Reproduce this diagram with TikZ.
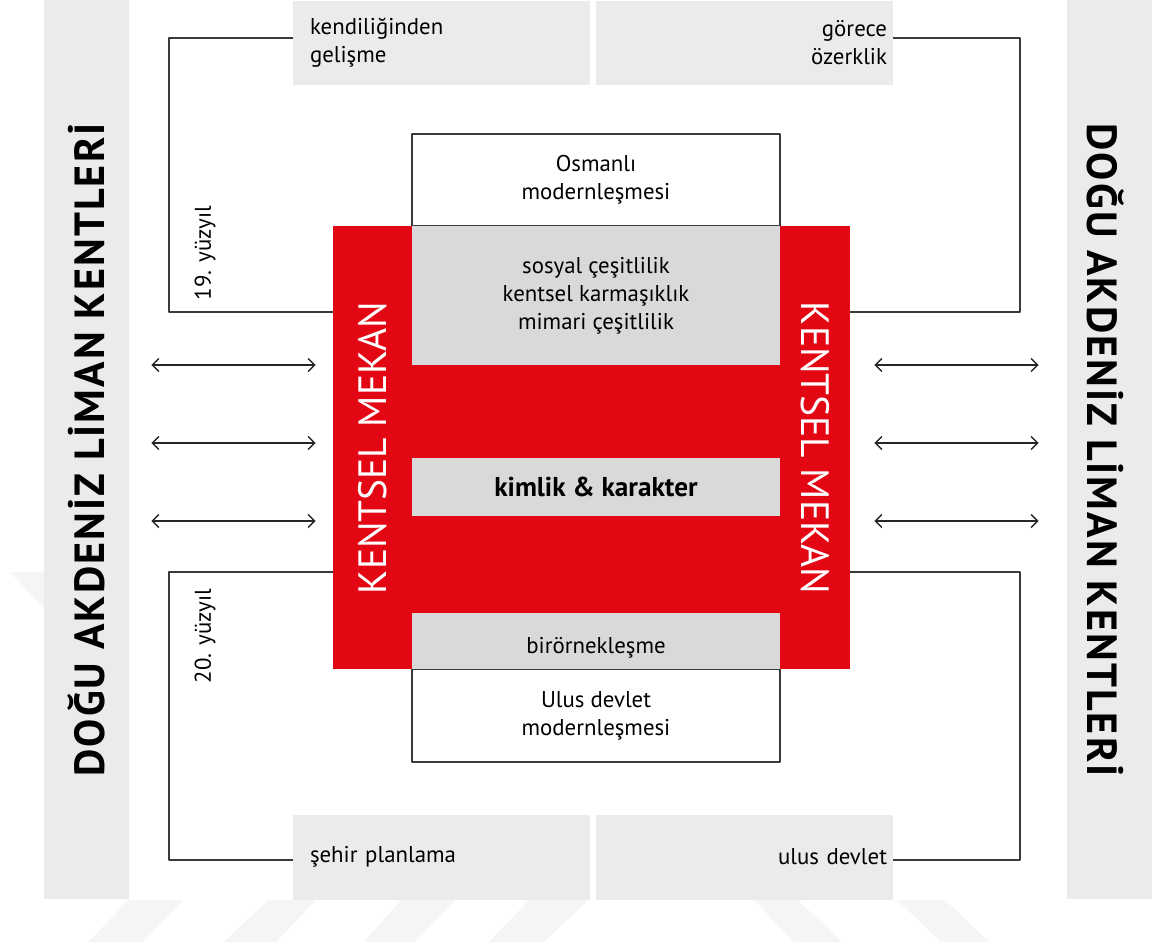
\documentclass[tikz,border=0pt]{standalone}
\usepackage{fontspec}
\setmainfont{PT Sans}
\newfontfamily\baslikfont[LetterSpace=5]{PT Sans}
\usetikzlibrary{arrows.meta}
\definecolor{kirmizi}{HTML}{E30613}
\definecolor{acikgri}{HTML}{EBEBEB}
\definecolor{gri}{HTML}{D9D9D9}
\definecolor{cizgi}{HTML}{3A3A3A}
\begin{document}
\begin{tikzpicture}[x=0.02cm,y=-0.02cm,>={Straight Barb[length=1.3mm,width=2.6mm]},line join=round,font=\fontsize{13}{16}\selectfont,
	bar/.style={fill=acikgri,minimum width=1.7cm,minimum height=17.98cm,inner sep=0pt},
	yanbox/.style={fill=acikgri,minimum width=5.94cm,minimum height=1.7cm,text width=5.26cm,inner xsep=0.34cm,inner ysep=0pt,align=left},
	yanboxR/.style={yanbox,text width=5.70cm,inner xsep=0.12cm,align=right},
	donem/.style={draw=cizgi,line width=0.8pt,fill=white,minimum width=7.36cm,minimum height=1.84cm,align=center},
	icbox/.style={fill=gri,minimum width=7.36cm,inner sep=0pt,align=center},
	baglanti/.style={draw=cizgi,line width=0.8pt},
	ok/.style={<->,draw=black!85,line width=0.8pt},
	baslik/.style={font=\baslikfont\fontsize{24}{28}\selectfont\bfseries},
	mekanyazi/.style={text=white,font=\fontsize{22.5}{26}\selectfont}]
	\useasboundingbox (0,0) rectangle (1152,947);
	% soluk filigran
	\fill[black!4] (88,942)--(143,942)--(184,900)--(129,900)--cycle;
	\fill[black!4] (224,942)--(276,942)--(316,900)--(268,900)--cycle;
	\fill[black!4] (364,942)--(415,942)--(456,900)--(401,900)--cycle;
	\fill[black!4] (489,942)--(544,942)--(588,900)--(529,900)--cycle;
	\fill[black!4] (754,900)--(798,900)--(842,942)--(794,942)--cycle;
	\fill[black!4] (897,900)--(945,900)--(989,942)--(941,942)--cycle;
	\fill[black!4] (10,572)--(44,572)--(44,608)--cycle;
	% kenar seritleri
	\node[bar] (doguL) at (86.5,449.5) {};
	\node[bar] (doguR) at (1109.5,449.5) {};
	\node[baslik,rotate=90] (dogusol) at (86,450) {DOĞU AKDENİZ LİMAN KENTLERİ};
	\node[baslik,rotate=-90] (dogusag) at (1106,450) {DOĞU AKDENİZ LİMAN KENTLERİ};
	% ust ve alt kutular
	\node[yanbox] (kend) at (441.5,43) {kendiliğinden\\gelişme};
	\node[yanboxR] (gorece) at (744.5,43) {görece\\özerklik};
	\node[yanbox] (sehir) at (441.5,857) {şehir planlama};
	\node[yanboxR] (ulus) at (744.5,857) {ulus devlet};
	\node[donem] (osm) at (596,180) {Osmanlı\\modernleşmesi};
	\node[donem,minimum height=1.86cm] (uld) at (596,715.5) {Ulus devlet\\modernleşmesi};
	% kentsel mekan
	\node[fill=kirmizi,minimum width=10.34cm,minimum height=8.86cm,inner sep=0pt] (mekan) at (591.5,447.5) {};
	\node[icbox,minimum height=2.78cm] (cesit) at (596,295.5) {sosyal çeşitlilik\\kentsel karmaşıklık\\mimari çeşitlilik};
	\node[icbox,minimum height=1.16cm,font=\fontsize{15.5}{18}\selectfont\bfseries] (kimlik) at (596,487) {kimlik \& karakter};
	\node[icbox,minimum height=1.12cm] (biro) at (596,641) {};
	\node (biroyazi) at (596,648) {birörnekleşme};
	\node[mekanyazi,rotate=90] (mekansol) at (372.5,448) {KENTSEL MEKAN};
	\node[mekanyazi,rotate=-90] (mekansag) at (815,448) {KENTSEL MEKAN};
	% donemler
	\coordinate (k19) at (169,312);
	\coordinate (k20) at (169,572);
	\coordinate (s19) at (1020,312);
	\coordinate (s20) at (1020,572);
	\draw[baglanti] ([yshift=1mm]kend.west) -| (k19) -- (k19 -| mekan.west);
	\draw[baglanti] ([yshift=1mm]gorece.east) -| (s19) -- (s19 -| mekan.east);
	\draw[baglanti] (k20 -| mekan.west) -- (k20) |- ([yshift=-0.6mm]sehir.west);
	\draw[baglanti] (s20 -| mekan.east) -- (s20) |- ([yshift=-0.6mm]ulus.east);
	\node[rotate=90] (y19) at (205,253) {19. yüzyıl};
	\node[rotate=90] (y20) at (205,636) {20. yüzyıl};
	% karsilikli oklar
	\foreach \y in {365,443,521}{
		\draw[ok,shorten <=0.44cm,shorten >=0.34cm] (doguL.east |- 0,\y) -- (mekan.west |- 0,\y);
		\draw[ok,shorten <=0.48cm,shorten >=0.56cm] (mekan.east |- 0,\y) -- (doguR.west |- 0,\y);
	}
\end{tikzpicture}
\end{document}
